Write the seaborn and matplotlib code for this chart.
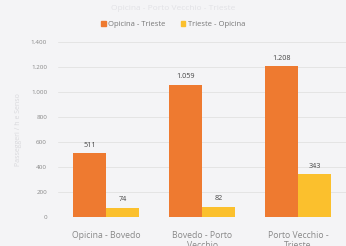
import pandas as pd
import matplotlib.pyplot as plt
import seaborn as sns

# dati
tratte = ["Opicina - Bovedo", "Bovedo - Porto\nVecchio", "Porto Vecchio -\nTrieste"]
opicina_trieste = [511, 1059, 1208]
trieste_opicina = [74, 82, 343]
serie = ["Opicina - Trieste", "Trieste - Opicina"]

df = pd.DataFrame({
    "tratta": tratte * 2,
    "valore": opicina_trieste + trieste_opicina,
    "direzione": [serie[0]] * 3 + [serie[1]] * 3,
})

sns.set_style("white")
plt.rcParams['font.family'] = ['Open Sans', 'DejaVu Sans']

fig = plt.figure(figsize=(3.46, 2.46), dpi=100, facecolor='#f4f4f6')
ax = fig.add_axes([0.168, 0.118, 0.832, 0.711])
ax.set_facecolor('none')

sns.barplot(data=df, x="tratta", y="valore", hue="direzione",
            palette=['#EE7A30', '#FBC02D'], width=0.68, ax=ax,
            saturation=1, legend=False, linewidth=0, gap=0)

# etichette valori
for cont in ax.containers:
    for bar in cont:
        h = bar.get_height()
        ax.text(bar.get_x() + bar.get_width() / 2, h + 35,
                f"{h:,.0f}".replace(",", "."), ha='center', va='bottom',
                fontsize=5.2, color='#444444')

ax.set_xlim(-0.5, 2.5)
ax.set_ylim(0, 1400)
ax.set_yticks(range(0, 1401, 200))
ax.set_yticklabels([f"{v:,}".replace(",", ".") for v in range(0, 1401, 200)],
                   fontsize=4.5, color='#888888')
ax.tick_params(axis='x', labelsize=6.2, colors='#888888', length=0, pad=10)
ax.tick_params(axis='y', length=0, pad=8)
ax.grid(axis='y', color='#e4e4e4', linewidth=0.7)
ax.set_axisbelow(True)
sns.despine(ax=ax, left=True, bottom=True)
ax.set_xlabel("")
ax.set_ylabel("Passeggeri / h e Senso", fontsize=5, color='#d8d8dc', labelpad=6)

# legenda
handles = [plt.Rectangle((0, 0), 1, 1, color=c) for c in ['#EE7A30', '#FBC02D']]
fig.legend(handles, serie, loc='center', bbox_to_anchor=(0.5, 0.9),
           ncol=2, frameon=False, fontsize=5.5, handlelength=0.6,
           handleheight=0.6, handletextpad=0.3, columnspacing=2,
           labelcolor='#777777')

fig.text(0.5, 0.965, "Opicina - Porto Vecchio - Trieste", ha='center',
         va='center', fontsize=6, color='#e2e2e6')

fig.savefig("out.png", dpi=100, facecolor=fig.get_facecolor())
